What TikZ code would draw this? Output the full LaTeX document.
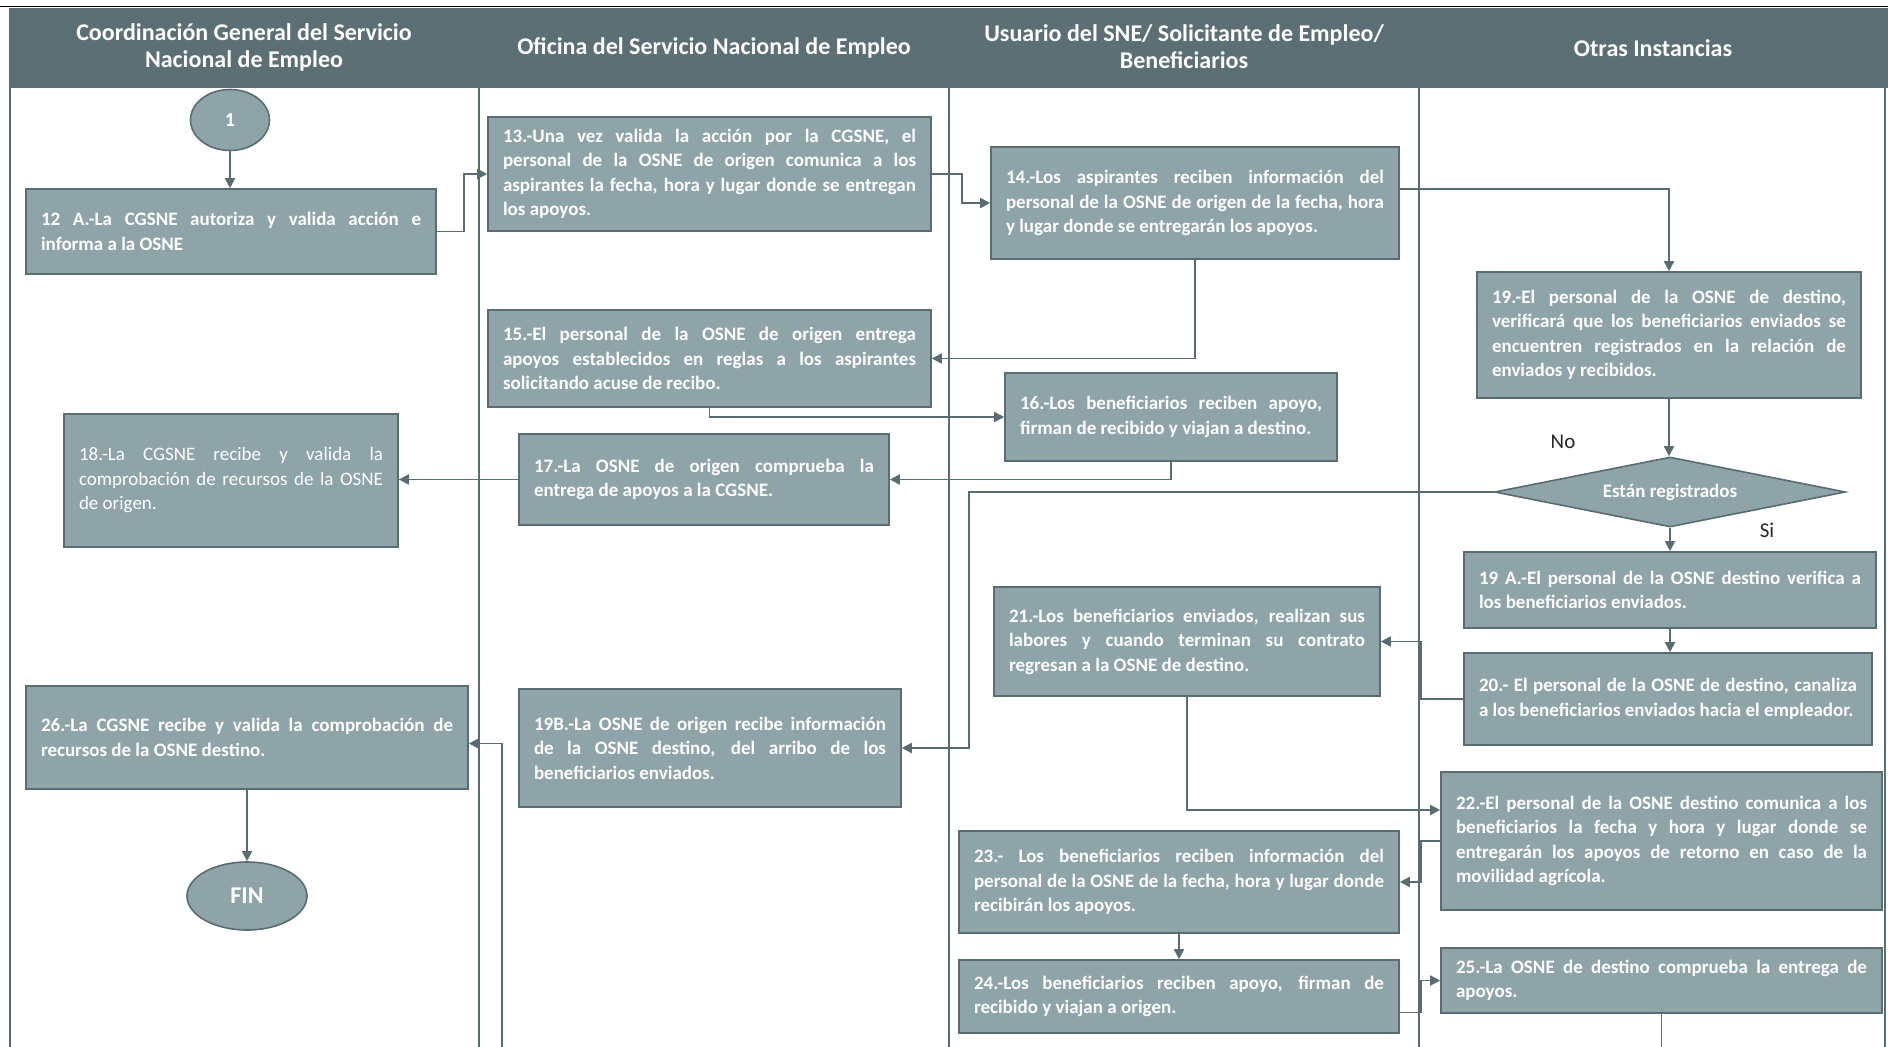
\documentclass[tikz,border=0pt]{standalone}
\usepackage{fontspec}
\setmainfont{Carlito}
\usepackage{tikz}
\usetikzlibrary{arrows.meta,shapes.geometric}
\definecolor{caja}{HTML}{8FA4A9}
\definecolor{linea}{HTML}{586C72}
\definecolor{cabecera}{HTML}{5B6F75}
\tikzset{paso/.style={draw=linea,fill=caja,line width=1.6pt,text=white,align=justify,
    inner xsep=15pt,inner ysep=0pt,font=\fontsize{19}{24.5}\selectfont\bfseries},
    pasofino/.style={paso,font=\fontsize{19}{24.5}\selectfont},
    terminal/.style={ellipse,draw=linea,fill=caja,line width=1.6pt,text=white,inner sep=0pt,
    font=\fontsize{20}{24}\selectfont\bfseries},
    decision/.style={diamond,aspect=5,draw=linea,fill=caja,line width=1.6pt,text=white,inner sep=0pt,
    font=\fontsize{19}{22}\selectfont\bfseries},
    titulo/.style={text=white,align=center,font=\fontsize{24}{27}\selectfont\bfseries},
    rama/.style={text=black!85,font=\fontsize{21}{24}\selectfont},
    carril/.style={draw=linea,line width=1.5pt},
    flecha/.style={draw=linea,line width=1.8pt,-{Triangle[length=10pt,width=10pt]}},
    tramo/.style={draw=linea,line width=1.8pt}}
\begin{document}
\begin{tikzpicture}[x=1pt,y=-1pt]
\useasboundingbox (0,0) rectangle (1888,1047);
\draw[black,line width=1pt] (0,6) -- (1888,6);
\fill[cabecera] (9,8) rectangle (1888,88);
\foreach \xc in {10,479,949,1419,1885}
    \draw[carril] (\xc,88) -- (\xc,1047);
\node[titulo] (t1) at (244,47) {Coordinación General del Servicio\\Nacional de Empleo};
\node[titulo] (t2) at (714,48) {Oficina del Servicio Nacional de Empleo};
\node[titulo] (t3) at (1184,47) {Usuario del SNE/ Solicitante de Empleo/\\Beneficiarios};
\node[titulo] (t4) at (1653,48) {Otras Instancias};

\node[terminal,minimum width=79pt,minimum height=61pt] (ini) at (230,120) {1};
\node[paso,text width=380pt,minimum height=85pt] (b12a) at (231,231.5)
    {12 A.-La CGSNE autoriza y valida acción e\linebreak informa a la OSNE};
\node[paso,text width=413pt,minimum height=114pt] (b13) at (709.5,174)
    {13.-Una vez valida la acción por la CGSNE, el\linebreak personal de la OSNE de origen comunica a los\linebreak aspirantes la fecha, hora y lugar donde se entregan\linebreak los apoyos.};
\node[paso,text width=378pt,minimum height=112pt] (b14) at (1195,203)
    {14.-Los aspirantes reciben información del\linebreak personal de la OSNE de origen de la fecha, hora\linebreak y lugar donde se entregarán los apoyos.};
\node[paso,text width=413pt,minimum height=97pt] (b15) at (709.5,358.5)
    {15.-El personal de la OSNE de origen entrega\linebreak apoyos establecidos en reglas a los aspirantes\linebreak solicitando acuse de recibo.};
\node[paso,text width=302pt,minimum height=88pt] (b16) at (1171,417)
    {16.-Los beneficiarios reciben apoyo,\linebreak firman de recibido y viajan a destino.};
\node[paso,text width=340pt,minimum height=91pt] (b17) at (704,479.5)
    {17.-La OSNE de origen comprueba la\linebreak entrega de apoyos a la CGSNE.};
\node[pasofino,text width=304pt,minimum height=133pt] (b18) at (231,480.5)
    {18.-La CGSNE recibe y valida la\linebreak comprobación de recursos de la OSNE\linebreak de origen.};
\node[paso,text width=354pt,minimum height=126pt] (b19) at (1669,335)
    {19.-El personal de la OSNE de destino,\linebreak verificará que los beneficiarios enviados se\linebreak encuentren registrados en la relación de\linebreak enviados y recibidos.};
\node[decision,minimum width=351pt,minimum height=70pt] (dec) at (1670,492) {Están registrados};
\node[rama] (no) at (1563,442) {No};
\node[rama] (si) at (1767,530) {Si};
\node[paso,text width=382pt,minimum height=76pt] (b19a) at (1670,590)
    {19 A.-El personal de la OSNE destino verifica a\linebreak los beneficiarios enviados.};
\node[paso,text width=378pt,minimum height=92pt] (b20) at (1668,699)
    {20.- El personal de la OSNE de destino, canaliza\linebreak a los beneficiarios enviados hacia el empleador.};
\node[paso,text width=356pt,minimum height=109pt] (b21) at (1187,641.5)
    {21.-Los beneficiarios enviados, realizan sus\linebreak labores y cuando terminan su contrato\linebreak regresan a la OSNE de destino.};
\node[paso,text width=352pt,minimum height=118pt] (b19b) at (710,748)
    {19B.-La OSNE de origen recibe información\linebreak de la OSNE destino, del arribo de los\linebreak beneficiarios enviados.};
\node[paso,text width=412pt,minimum height=103pt] (b26) at (247,737.5)
    {26.-La CGSNE recibe y valida la comprobación de\linebreak recursos de la OSNE destino.};
\node[terminal,minimum width=120pt,minimum height=68pt,font=\fontsize{24}{28}\selectfont\bfseries] (fin) at (247,896) {FIN};
\node[paso,text width=411pt,minimum height=138pt] (b22) at (1661.5,841)
    {22.-El personal de la OSNE destino comunica a los\linebreak beneficiarios la fecha y hora y lugar donde se\linebreak entregarán los apoyos de retorno en caso de la\linebreak movilidad agrícola.};
\node[paso,text width=410pt,minimum height=102pt] (b23) at (1179,882)
    {23.- Los beneficiarios reciben información del\linebreak personal de la OSNE de la fecha, hora y lugar donde\linebreak recibirán los apoyos.};
\node[paso,text width=410pt,minimum height=73pt] (b24) at (1179,996.5)
    {24.-Los beneficiarios reciben apoyo, firman de\linebreak recibido y viajan a origen.};
\node[paso,text width=411pt,minimum height=65pt] (b25) at (1661.5,980.5)
    {25.-La OSNE de destino comprueba la entrega de\linebreak apoyos.};
\coordinate (sal25) at (1661.5,1047);
\coordinate (ent26) at (502,1047);

\draw[flecha] (ini.south) -- (ini.south |- b12a.north);
\draw[flecha] (b12a.east) -- ++(27,0) |- (b13.west);
\draw[flecha] (b13.east) -- ++(30,0) |- (b14.west);
\draw[flecha] ([yshift=14pt]b14.east) -| (b19.north);
\draw[flecha] (b14.south) |- (b15.east);
\draw[flecha] (b15.south) |- (b16.west);
\draw[flecha] (b16.south) |- (b17.east);
\draw[flecha] (b17.west) -- (b17.west -| b18.east);
\draw[flecha] (b19.south) -- (b19.south |- dec.north);
\draw[flecha] (dec.south) -- (dec.south |- b19a.north);
\draw[flecha] (dec.west) -- ++(-525,0) |- (b19b.east);
\draw[flecha] (b19a.south) -- (b19a.south |- b20.north);
\draw[flecha] (b20.west) -- ++(-42,0) |- (b21.east);
\draw[flecha] (b21.south) |- ([yshift=31pt]b22.west);
\draw[flecha] (b22.west) -- ++(-19,0) |- (b23.east);
\draw[flecha] (b23.south) -- (b23.south |- b24.north);
\draw[flecha] ([yshift=-16pt]b24.east) -- ++(21,0) |- (b25.west);
\draw[tramo] (b25.south) -- (sal25);
\draw[flecha] (ent26) |- ([yshift=-6pt]b26.east);
\draw[flecha] (b26.south) -- (fin.north);
\end{tikzpicture}
\end{document}
